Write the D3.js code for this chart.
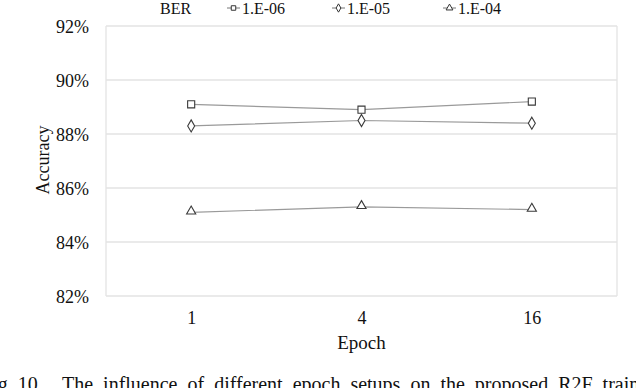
<!DOCTYPE html>
<html><head><meta charset="utf-8">
<script src="https://cdn.jsdelivr.net/npm/d3@7"></script>
<style>
html,body{margin:0;padding:0;background:#fff;overflow:hidden}
</style></head>
<body>
<svg id="chart" width="636" height="388"></svg>
<script>
const epochs = ["1", "4", "16"];
const seriesNames = ["1.E-06", "1.E-05", "1.E-04"];
const ber06 = [89.1, 88.9, 89.2];
const ber05 = [88.3, 88.5, 88.4];
const ber04 = [85.1, 85.3, 85.2];
const yTicks = [82, 84, 86, 88, 90, 92];
const symbols = [d3.symbolSquare, d3.symbolDiamond, d3.symbolTriangle];

const series = [ber06, ber05, ber04];
const svg = d3.select("#chart");
const FONT = '"Liberation Serif"';
const L = 106, R = 617, T = 26, B = 296;

const x = d3.scalePoint().domain(epochs).range([L, R]).padding(0.5);
const y = d3.scaleLinear().domain([82, 92]).range([B, T]);

// gridlines
svg.append("g").selectAll("line").data(yTicks).join("line")
  .attr("x1", L).attr("x2", R)
  .attr("y1", d => y(d)).attr("y2", d => y(d))
  .attr("stroke", "#e3e3e3").attr("stroke-width", 1.3);
svg.append("line").attr("x1", L).attr("x2", L).attr("y1", T).attr("y2", B).attr("stroke", "#e3e3e3").attr("stroke-width", 1.3);
svg.append("line").attr("x1", R).attr("x2", R).attr("y1", T).attr("y2", B).attr("stroke", "#e3e3e3").attr("stroke-width", 1.3);

// y axis labels
const yAxis = d3.axisLeft(y).tickValues(yTicks).tickSize(0).tickPadding(0).tickFormat(d => d + "%");
const ya = svg.append("g").attr("transform", `translate(89,0)`).call(yAxis);
ya.select(".domain").remove();
ya.selectAll("text").attr("font-size", 18).attr("dy", "0.34em");

// x axis labels
const xAxis = d3.axisBottom(x).tickSize(0).tickPadding(0);
const xa = svg.append("g").attr("transform", `translate(0,324)`).call(xAxis);
xa.select(".domain").remove();
xa.selectAll("text").attr("font-size", 18).attr("dy", 0);

// axis titles
svg.append("text").attr("x", (L + R) / 2).attr("y", 349).attr("text-anchor", "middle")
  .attr("font-size", 19).text("Epoch");
svg.append("text").attr("transform", "translate(48.5,160) rotate(-90)").attr("text-anchor", "middle")
  .attr("font-size", 18).text("Accuracy");

// lines and markers
const line = d3.line().x((d, i) => x(epochs[i])).y(d => y(d));
series.forEach((s) => {
  svg.append("path").datum(s).attr("d", line).attr("fill", "none")
    .attr("stroke", "#9a9a9a").attr("stroke-width", 1.2);
});
const sizes = [50, 42, 36];
series.forEach((s, k) => {
  svg.append("g").selectAll("path").data(s).join("path")
    .attr("transform", (d, i) => `translate(${x(epochs[i])},${y(d) + (k === 2 ? -1 : 0)})`)
    .attr("d", d3.symbol().type(symbols[k]).size(sizes[k]))
    .attr("fill", "#fff").attr("stroke", "#3a3a3a").attr("stroke-width", 1.1);
});

// legend
svg.append("text").attr("x", 160).attr("y", 14).attr("font-size", 16).text("BER");
const legX = [227, 332, 443];
const leg = svg.append("g").selectAll("g").data(seriesNames).join("g")
  .attr("transform", (d, i) => `translate(${legX[i]},8)`);
leg.append("line").attr("x1", 0).attr("x2", 13).attr("y1", 0).attr("y2", 0)
  .attr("stroke", "#777").attr("stroke-width", 1);
leg.append("path").attr("transform", "translate(6.5,0)")
  .attr("d", (d, i) => d3.symbol().type(symbols[i]).size(20)())
  .attr("fill", "#fff").attr("stroke", "#333").attr("stroke-width", 1);
leg.append("text").attr("x", 15).attr("y", 6).attr("font-size", 16).text(d => d);

svg.selectAll("text").style("font-family", FONT).attr("fill", "#111");

// caption
const CAP = 20;
svg.append("text").attr("x", -19).attr("y", 391).attr("font-size", CAP)
  .style("font-family", FONT).attr("fill", "#111").text("Fig. 10.");
svg.append("text").attr("x", 62).attr("y", 391).attr("font-size", CAP)
  .style("font-family", FONT).style("word-spacing", "5px").attr("fill", "#111")
  .text("The influence of different epoch setups on the proposed R2F training");
</script>
</body></html>
